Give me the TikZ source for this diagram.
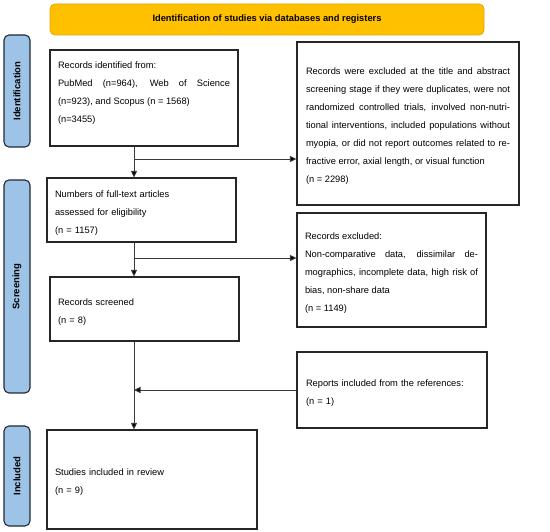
\documentclass[tikz,border=0pt]{standalone}
\usepackage{fontspec}
\setmainfont{Liberation Sans}
\usetikzlibrary{arrows.meta}
\definecolor{titlefill}{HTML}{FFC000}
\definecolor{titleedge}{HTML}{E0A400}
\definecolor{sidefill}{HTML}{9DC3E6}
\definecolor{sideedge}{HTML}{1F2A38}
\definecolor{linegray}{HTML}{3A3A3A}
\begin{document}
\begin{tikzpicture}[x=1pt,y=-1pt,
  box/.style={draw=black!85, line width=1.1pt, inner xsep=8pt, inner ysep=0pt,
    font=\fontsize{9.3}{18}\selectfont, align=left, execute at begin node={\rule{0pt}{12pt}}},
  jbox/.style={box, align=justify},
  side/.style={draw=sideedge, line width=1.1pt, fill=sidefill, rounded corners=5pt,
    rotate=90, inner sep=0pt, font=\bfseries\fontsize{9.5}{11}\selectfont},
  titlebox/.style={draw=titleedge, line width=0.8pt, fill=titlefill, rounded corners=5pt,
    inner sep=0pt, font=\bfseries\fontsize{9.3}{11}\selectfont},
  arr/.style={draw=linegray, line width=0.9pt, -{Triangle[length=6.5pt,width=6pt,fill=black]}},
  ln/.style={draw=linegray, line width=0.9pt}]
\useasboundingbox (0,0) rectangle (550,532);

\node[titlebox, minimum width=434pt, minimum height=31pt] (title) at (267,19.5)
  {Identification of studies via databases and registers};

\node[side, minimum width=112pt, minimum height=26pt] (sid) at (17,91) {Identification};
\node[side, minimum width=213pt, minimum height=26pt] (ssc) at (17,286.5) {Screening};
\node[side, minimum width=100pt, minimum height=26pt] (sin) at (17,476) {Included};

\node[jbox, minimum width=188pt, minimum height=96pt, text width=172pt] (a) at (144,98)
  {Records identified from:\\
   PubMed (n=964), Web of Science (n=923), and Scopus (n = 1568)\\
   (n=3455)\par\kern16pt};

\node[jbox, minimum width=222pt, minimum height=163pt, text width=204pt, inner xsep=9pt] (b) at (408,123.5)
  {Records were excluded at the title and abstract\linebreak
   screening stage if they were duplicates, were not\linebreak
   randomized controlled trials, involved non-nutri-\linebreak
   tional interventions, included populations without\linebreak
   myopia, or did not report outcomes related to re-\linebreak
   fractive error, axial length, or visual function\\
   (n = 2298)};

\node[box, minimum width=189pt, minimum height=64pt, text width=173pt] (c) at (141.5,210)
  {Numbers of full-text articles\\ assessed for eligibility\\ (n = 1157)};

\node[jbox, minimum width=189pt, minimum height=114pt, text width=173pt] (d) at (391.5,270)
  {Records excluded:\\
   Non-comparative data, dissimilar de-\linebreak
   mographics, incomplete data, high risk of\linebreak
   bias, non-share data\\
   (n = 1149)};

\node[box, minimum width=189pt, minimum height=64pt, text width=173pt] (e) at (144.5,309)
  {Records screened\\ (n = 8)};

\node[box, minimum width=190pt, minimum height=76pt, text width=172pt, inner xsep=9pt] (f) at (392,390)
  {Reports included from the references:\\ (n = 1)};

\node[box, minimum width=210pt, minimum height=99pt, text width=194pt] (g) at (152,479.5)
  {Studies included in review\\ (n = 9)};

\coordinate (j1) at (134,159);
\coordinate (j2) at (134,258);
\coordinate (j3) at (134,390);

\draw[arr] (a.south -| j1) -- (c.north -| j1);
\draw[arr] (j1) -- (b.west |- j1);
\draw[arr] (c.south -| j2) -- (e.north -| j2);
\draw[arr] (j2) -- (d.west |- j2);
\draw[arr] (e.south -| j3) -- (g.north -| j3);
\draw[arr] (f.west |- j3) -- (j3);
\end{tikzpicture}
\end{document}
